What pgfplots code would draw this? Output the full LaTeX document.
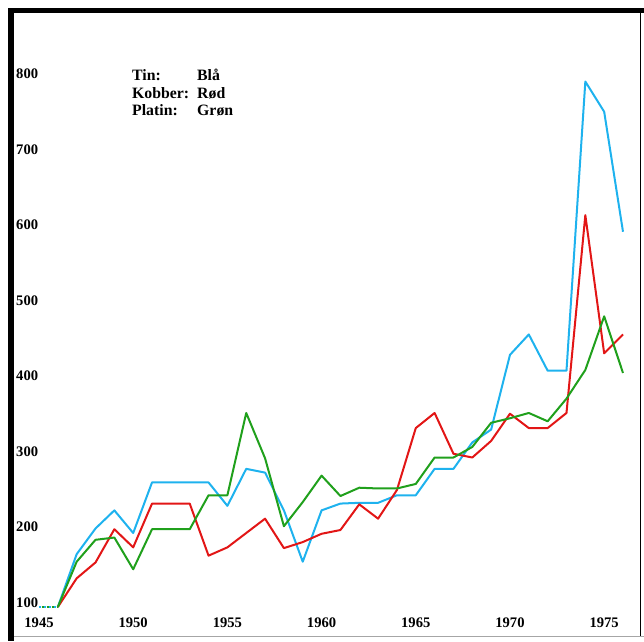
\documentclass[border=0pt]{standalone}
\usepackage{pgfplots}
\pgfplotsset{compat=1.18}
\usepackage{fontspec}
\setmainfont{Liberation Serif}
\definecolor{tinblue}{RGB}{30,178,238}
\definecolor{kobred}{RGB}{226,22,22}
\definecolor{platgreen}{RGB}{32,160,28}
\begin{document}
\begin{tikzpicture}[x=1pt,y=1pt]
\useasboundingbox (0,0) rectangle (644,641);
% frame
\fill[black] (8,0) rectangle (14,633);
\fill[black] (8,628) rectangle (644,633);
\draw[black,line width=1.5pt] (640.5,630) -- (640.5,5);
\draw[black!35,line width=1pt] (14,5) -- (644,5);
\begin{axis}[
  at={(39pt,34pt)}, anchor=south west,
  scale only axis, width=584pt, height=528.5pt,
  xmin=1945, xmax=1976, ymin=100, ymax=800,
  clip=false,
  axis line style={draw=none},
  major tick length=0pt,
  xtick={1945,1950,1955,1960,1965,1970,1975},
  xticklabels={1945,1950,1955,1960,1965,1970,1975},
  ytick={100,200,300,400,500,600,700,800},
  yticklabels={100,200,300,400,500,600,700,800},
  tick label style={font=\fontsize{14.6}{16}\selectfont\bfseries, inner sep=0pt},
  xticklabel style={anchor=base, yshift=-20.7pt},
  yticklabel style={anchor=base west, xshift=-23pt},
  line join=round,
]
\addplot[tinblue, line width=2.2pt, dash pattern=on 2pt off 3pt] coordinates {(1945,100)(1946,100)};
\addplot[platgreen, line width=2.2pt, dash pattern=on 2pt off 3pt, dash phase=2.5pt] coordinates {(1945,100)(1946,100)};
\addplot[tinblue, line width=2pt] coordinates {
(1946,100)(1947,170)(1948,204)(1949,228)(1950,198)(1951,265)(1952,265)(1953,265)(1954,265)(1955,234)
(1956,283)(1957,278)(1958,228)(1959,160)(1960,228)(1961,237)(1962,238)(1963,238)(1964,248)(1965,248)
(1966,283)(1967,283)(1968,318)(1969,335)(1970,434)(1971,461)(1972,413)(1973,413)(1974,796)(1975,756)(1976,597)};
\addplot[kobred, line width=2pt] coordinates {
(1946,100)(1947,138)(1948,159)(1949,203)(1950,179)(1951,237)(1952,237)(1953,237)(1954,168)(1955,179)
(1956,198)(1957,217)(1958,178)(1959,186)(1960,197)(1961,202)(1962,236)(1963,217)(1964,255)(1965,337)
(1966,357)(1967,303)(1968,298)(1969,320)(1970,356)(1971,337)(1972,337)(1973,357)(1974,619)(1975,436)(1976,461)};
\addplot[platgreen, line width=2pt] coordinates {
(1946,100)(1947,160)(1948,189)(1949,192)(1950,150)(1951,203)(1952,203)(1953,203)(1954,248)(1955,248)
(1956,357)(1957,297)(1958,207)(1959,239)(1960,274)(1961,247)(1962,258)(1963,257)(1964,257)(1965,263)
(1966,298)(1967,298)(1968,312)(1969,344)(1970,350)(1971,357)(1972,346)(1973,376)(1974,414)(1975,485)(1976,410)};
\end{axis}
\begin{scope}[font=\fontsize{15.8}{17}\selectfont\bfseries]
\node[anchor=base west, inner sep=0pt] at (132,560.3) {Tin:};
\node[anchor=base west, inner sep=0pt] at (132,542.7) {Kobber:};
\node[anchor=base west, inner sep=0pt] at (132,525.3) {Platin:};
\node[anchor=base west, inner sep=0pt] at (197,560.3) {Blå};
\node[anchor=base west, inner sep=0pt] at (197,542.7) {Rød};
\node[anchor=base west, inner sep=0pt] at (197,525.3) {Grøn};
\end{scope}
\end{tikzpicture}
\end{document}
